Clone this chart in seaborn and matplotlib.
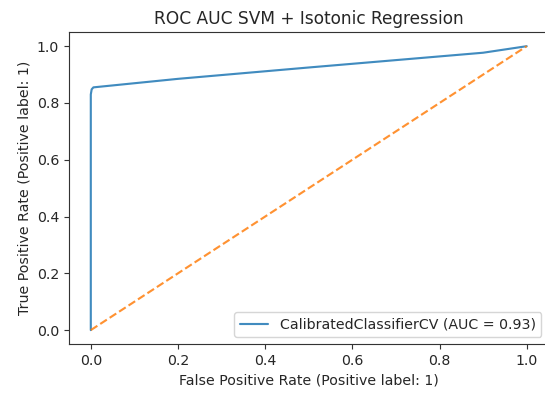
import matplotlib
matplotlib.use("Agg")
import matplotlib.pyplot as plt
import seaborn as sns
import pandas as pd

fpr = [0.0, 0.0, 0.002, 0.006, 0.2, 0.5, 0.9, 1.0]
tpr = [0.0, 0.83, 0.848, 0.855, 0.885, 0.925, 0.977, 1.0]
diag_x = [0.0, 1.0]
diag_y = [0.0, 1.0]
label = "CalibratedClassifierCV (AUC = 0.93)"
title = "ROC AUC SVM + Isotonic Regression"
xlabel = "False Positive Rate (Positive label: 1)"
ylabel = "True Positive Rate (Positive label: 1)"

sns.set_style("ticks")
plt.rcParams['font.family'] = ['DejaVu Sans']

W, H = 545, 399
DPI = 102
fig = plt.figure(figsize=(W / DPI, H / DPI), dpi=DPI)
left, right, top, bottom = 69, 548.5, 32, 344.3
ax = fig.add_axes([left / W, 1 - bottom / H, (right - left) / W, (bottom - top) / H])

roc = pd.DataFrame({"fpr": fpr, "tpr": tpr})
diag = pd.DataFrame({"x": diag_x, "y": diag_y})
sns.lineplot(data=roc, x="fpr", y="tpr", sort=False, estimator=None, ax=ax,
             color="#1f77b4", lw=1.5, label=label, alpha=0.85)
sns.lineplot(data=diag, x="x", y="y", sort=False, estimator=None, ax=ax,
             color="#ff7f0e", lw=1.5, linestyle="--", alpha=0.85)

ax.set_xlim(-0.05, 1.05)
ax.set_ylim(-0.05, 1.05)
ax.set_xticks([0, 0.2, 0.4, 0.6, 0.8, 1.0])
ax.set_yticks([0, 0.2, 0.4, 0.6, 0.8, 1.0])
ax.tick_params(labelsize=10, colors="#333333", labelcolor="#262626", length=3.5, width=0.8)
for s in ax.spines.values():
    s.set_color("#333333")
    s.set_linewidth(0.8)
ax.set_title(title, fontsize=12, color="#262626")
ax.set_xlabel(xlabel, fontsize=10, color="#262626")
ax.set_ylabel(ylabel, fontsize=10, color="#262626")
ax.legend(loc="lower right", fontsize=10, frameon=True)

fig.savefig("out.png", dpi=DPI)
